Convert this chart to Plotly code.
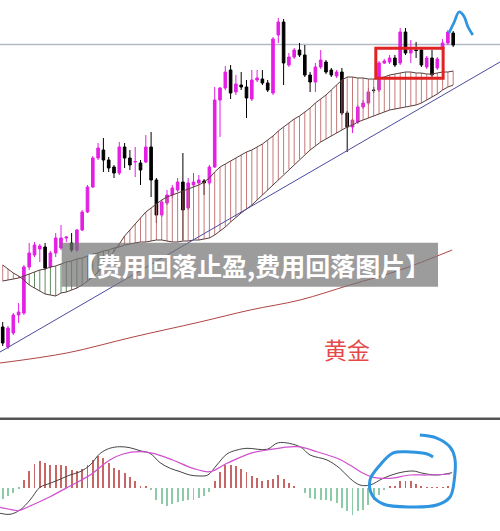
import plotly.graph_objects as go

# ---------------- data (price units) ----------------
opens  = [173,153,167,185,187,233,245,251,253,233,
          247,252,262,257,250,270,288,313,342,350,
          340,333,327,353,342,338,337,338,353,320,
          285,297,305,310,318,292,315,317,319,317,
          333,400,412,430,408,415,413,401,420,421,
          417,407,465,478,435,443,450,445,425,418,
          433,438,430,424,428,387,373,378,393,397,
          410,410,437,438,442,437,468,447,450,450,
          433,442,432,451,457,467]
highs  = [178,174,187,197,235,257,258,256,257,249,
          267,275,263.5,267,271,290,315,344,357,362,
          343,335,358,357,350,353,340,365,368,322,
          300,310,315,322,347,322,327,325,321,335,
          413,413,434,435,425,428,420,430,430,430,
          420,463,482,481,447,452,457,455,428,437,
          450,440,432,430,432,389,382,395,400,412,
          413,439,441,445,445,472,472,460,458,452,
          444,450,443,461,470,469]
lows   = [154,151,165,177,185,230,243,238,230,231,
          243,250,258,248,248,269,287,312,340,328,
          328,322,325,332,330,323,315,337,303,277,
          283,295,302,308,260,290,313,315,305,315,
          332,363,410,401,405,410,382,399,418,415,
          408,405,457,415,433,441,443,423,408,408,
          431,426,423,422,385,348,367,376,391,395,
          407,408,436,436,433,435,445,437,442,433,
          431,423,430,449,455,453]
closes = [157,172,185,188,233,247,255,254,232,247,
          262,262,263,250,270,288,313,342,352,340,
          332,327,353,342,335,338.5,330,353,320,285,
          298,305,312,318,290,317,318,320,317,333,
          400,412,428,407,416,413,402,420,422,417,
          410,461,478,437,443,450,445,425,418,433,
          440,428,425,428,387,373,380,393,397,408,
          409.5,437,439,442,435,468,447,450,449.5,435,
          442,425,441,457,468,455]

cloud_a = [235,231,227,224,220,215,212,209,206,205,
           204,207,208,210,212,215,219,223,228,235,
           242,248,256,264,270,276,282,288,292,296,
           300,303,305,307,309,311,313,315,318,322,
           328,333,336,339,342,345,348,350,353,356,
           360,364,369,373,377,381,384,388,392,397,
           401,405,410,415,420,423,423,422,422,421,
           421,422,423,425,426,427,428,428,427,427,
           426,426,427,428,428,429]
cloud_b = [219,220,221,222,224,226,228,230,231,233,
           234,236,238,239,241,242,244,246,247,249,
           250,252,253,255,256,257,258,258,259,260,
           260,259,258,258,259,259,260,260,261,262,
           265,269,273,278,283,287,291,295,300,305,
           310,315,320,326,331,336,341,346,350,354,
           358,361,364,367,370,373,375,378,380,382,
           384,386,388,390,391,392,393,394,395,397,
           400,403,406,410,413,415]

ma_idx   = [-0.5, 12.1, 24.6, 37.2, 46.7, 56.1, 65.5, 75.0, 84.8]
ma_price = [137, 147, 163, 178, 190, 200, 215, 230, 250]

trend_idx   = [-0.51, 93.83]
trend_price = [148, 438]

resist_price = 455.5
box_idx   = [70.4, 83.1]
box_price = [421.7, 451.7]

arrow_idx   = [84.2, 85.2, 86.1, 87.0, 87.8, 88.7]
arrow_price = [467, 478, 488, 484, 473, 465]

macd_hist = [-11,-8,-5,-1,8,17,24,27,25,23,
             23,23,22,18,17,19,23,28,32,30,
             25,20,18,15,11,7,2,2,-2,-12,
             -16,-18,-16,-14,-13,-12,-12,-10,-8,-4,
             7,16,23,23,22,19,16,12,10,7,
             8,9,13,9,5,2,0,-5,-10,-11,
             -12,-12,-13,-15,-20,-23,-27,-23,-22,-17,
             -12,-7,-2,1,2,7,7,7,4,2,
             0.5,0.5,0.5,0.3,2,0]

macd_idx = [-0.5,1.38,3.26,5.15,7.04,8.92,10.8,12.7,14.6,16.5,18.4,20.2,22.1,24.0,25.9,
            27.8,29.7,31.6,33.5,35.3,37.2,38.7,40.4,42.3,44.2,46.1,49.9,52.0,56.1,58.0,
            61.2,63.6,65.5,67.4,69.3,71.8,74.4,77.4,79.3,81.9,84.8]
macd_line = [-25.3,-26.3,-22,-12,0.7,4.7,8.7,13,16.3,23,34.7,39.7,41.3,40.3,37.3,
             34.7,25.3,19.7,16.3,13,12,13,23,34,38,39.7,38.7,45.3,41.3,33,
             28,19.7,9.7,3,3,9.7,14.7,17,14.7,13,15.3]
sig_idx = [-0.5,1.38,2.89,5.15,8.92,12.7,16.5,20.2,22.7,25.9,28.4,32.1,35.9,39.1,42.3,
           46.7,49.9,55.5,59.3,63.1,65.5,68.0,69.9,73.1,76.9,80.1,84.4]
sig_line = [-19.3,-21.3,-22.7,-18,-8.7,2,13,28,34,36.3,34.7,28,19.7,16.3,24.7,
            34.7,38,41.3,36.3,29.7,23,14.7,10.7,9.7,13,13,14]

circle_idx = [78.7,81.9,84.4,85.3,85.2,84.4,81.9,76.9,71.8,69.7,69.3,71.2,73.6,76.9,80.1,81.2]
circle_val = [53,50,41,30,8,-9,-17,-19,-16,-7,8,23,35,36,34,31]

banner_text = "【费用回落止盈,费用回落图片】"
gold_text = "黄金"

# ---------------- figure ----------------
MAG = "#e41fe4"
idx = list(range(len(opens)))
fig = go.Figure()

hx_r, hy_r, hx_g, hy_g = [], [], [], []
for i, (a, b) in enumerate(zip(cloud_a, cloud_b)):
    if a >= b:
        hx_r += [i, i, None]; hy_r += [a, b, None]
    else:
        hx_g += [i, i, None]; hy_g += [a, b, None]

fig.add_trace(go.Scatter(x=hx_r, y=hy_r, mode="lines", line=dict(color="#c06a6a", width=0.9), hoverinfo="skip"))
fig.add_trace(go.Scatter(x=hx_g, y=hy_g, mode="lines", line=dict(color="#4f7f4f", width=0.9), hoverinfo="skip"))
fig.add_trace(go.Scatter(x=idx, y=cloud_a, mode="lines", line=dict(color="#5a3c3c", width=1), hoverinfo="skip"))
fig.add_trace(go.Scatter(x=idx, y=cloud_b, mode="lines", line=dict(color="#5a3c3c", width=1), hoverinfo="skip"))
fig.add_trace(go.Scatter(x=ma_idx, y=ma_price, mode="lines", line=dict(color="#b04444", width=1, shape="spline"), hoverinfo="skip"))
fig.add_trace(go.Scatter(x=trend_idx, y=trend_price, mode="lines", line=dict(color="#4a4aa0", width=1), hoverinfo="skip"))

fig.add_trace(go.Candlestick(
    x=idx, open=opens, high=highs, low=lows, close=closes,
    increasing=dict(line=dict(color=MAG, width=1), fillcolor=MAG),
    decreasing=dict(line=dict(color="#000000", width=1), fillcolor="#000000"),
    whiskerwidth=0, hoverinfo="skip"))

fig.add_trace(go.Scatter(x=arrow_idx, y=arrow_price, mode="lines",
                         line=dict(color="#2f95e0", width=2.8, shape="spline"), hoverinfo="skip"))

# MACD panel
fig.add_trace(go.Bar(x=idx, y=macd_hist, xaxis="x2", yaxis="y2", width=0.17,
                     marker=dict(color=["#c86666" if v >= 0 else "#8ccaa8" for v in macd_hist], line=dict(width=0)),
                     hoverinfo="skip"))
fig.add_trace(go.Scatter(x=macd_idx, y=macd_line, xaxis="x2", yaxis="y2", mode="lines",
                         line=dict(color="#444444", width=1, shape="spline"), hoverinfo="skip"))
fig.add_trace(go.Scatter(x=sig_idx, y=sig_line, xaxis="x2", yaxis="y2", mode="lines",
                         line=dict(color="#d050d0", width=1.2, shape="spline"), hoverinfo="skip"))
fig.add_trace(go.Scatter(x=circle_idx, y=circle_val, xaxis="x2", yaxis="y2", mode="lines",
                         line=dict(color="#2f95e0", width=3, shape="spline"), hoverinfo="skip"))

xr = [-0.51, 93.83]
fig.update_layout(
    width=500, height=531, margin=dict(l=0, r=0, t=0, b=0),
    paper_bgcolor="white", plot_bgcolor="white", showlegend=False,
    xaxis=dict(range=xr, visible=False, rangeslider=dict(visible=False), domain=[0, 1], anchor="y"),
    yaxis=dict(range=[82, 500], domain=[0.2128, 1], visible=False, anchor="x"),
    xaxis2=dict(range=xr, visible=False, domain=[0, 1], anchor="y2"),
    yaxis2=dict(range=[-43, 68], domain=[0, 0.209], visible=False, anchor="x2"),
    bargap=0,
    shapes=[
        dict(type="line", xref="paper", yref="y", x0=0, x1=1, y0=resist_price, y1=resist_price,
             line=dict(color="#b4bac8", width=1.5), layer="below"),
        dict(type="rect", xref="x", yref="y", x0=box_idx[0], x1=box_idx[1], y0=box_price[0], y1=box_price[1],
             line=dict(color="#e02222", width=3), layer="above"),
        dict(type="line", xref="paper", yref="paper", x0=0, x1=1, y0=0.2113, y1=0.2113,
             line=dict(color="#555555", width=2.5)),
        dict(type="rect", xref="paper", yref="paper", x0=0.1234, x1=0.876, y0=0.4601, y1=0.5429,
             fillcolor="rgba(118,118,118,0.72)", line=dict(width=0), layer="above"),
    ],
    annotations=[
        dict(text="<b>" + banner_text + "</b>", xref="paper", yref="paper", x=0.502, y=0.5009,
             showarrow=False, font=dict(family="Noto Sans CJK SC", size=25, color="white"),
             xanchor="center", yanchor="middle"),
        dict(text=gold_text, xref="paper", yref="paper", x=0.694, y=0.343,
             showarrow=False, font=dict(family="Noto Sans CJK SC", size=23, color="#e44848"),
             xanchor="center", yanchor="middle"),
    ],
)

fig.write_html("out.html", config={"displayModeBar": False})
